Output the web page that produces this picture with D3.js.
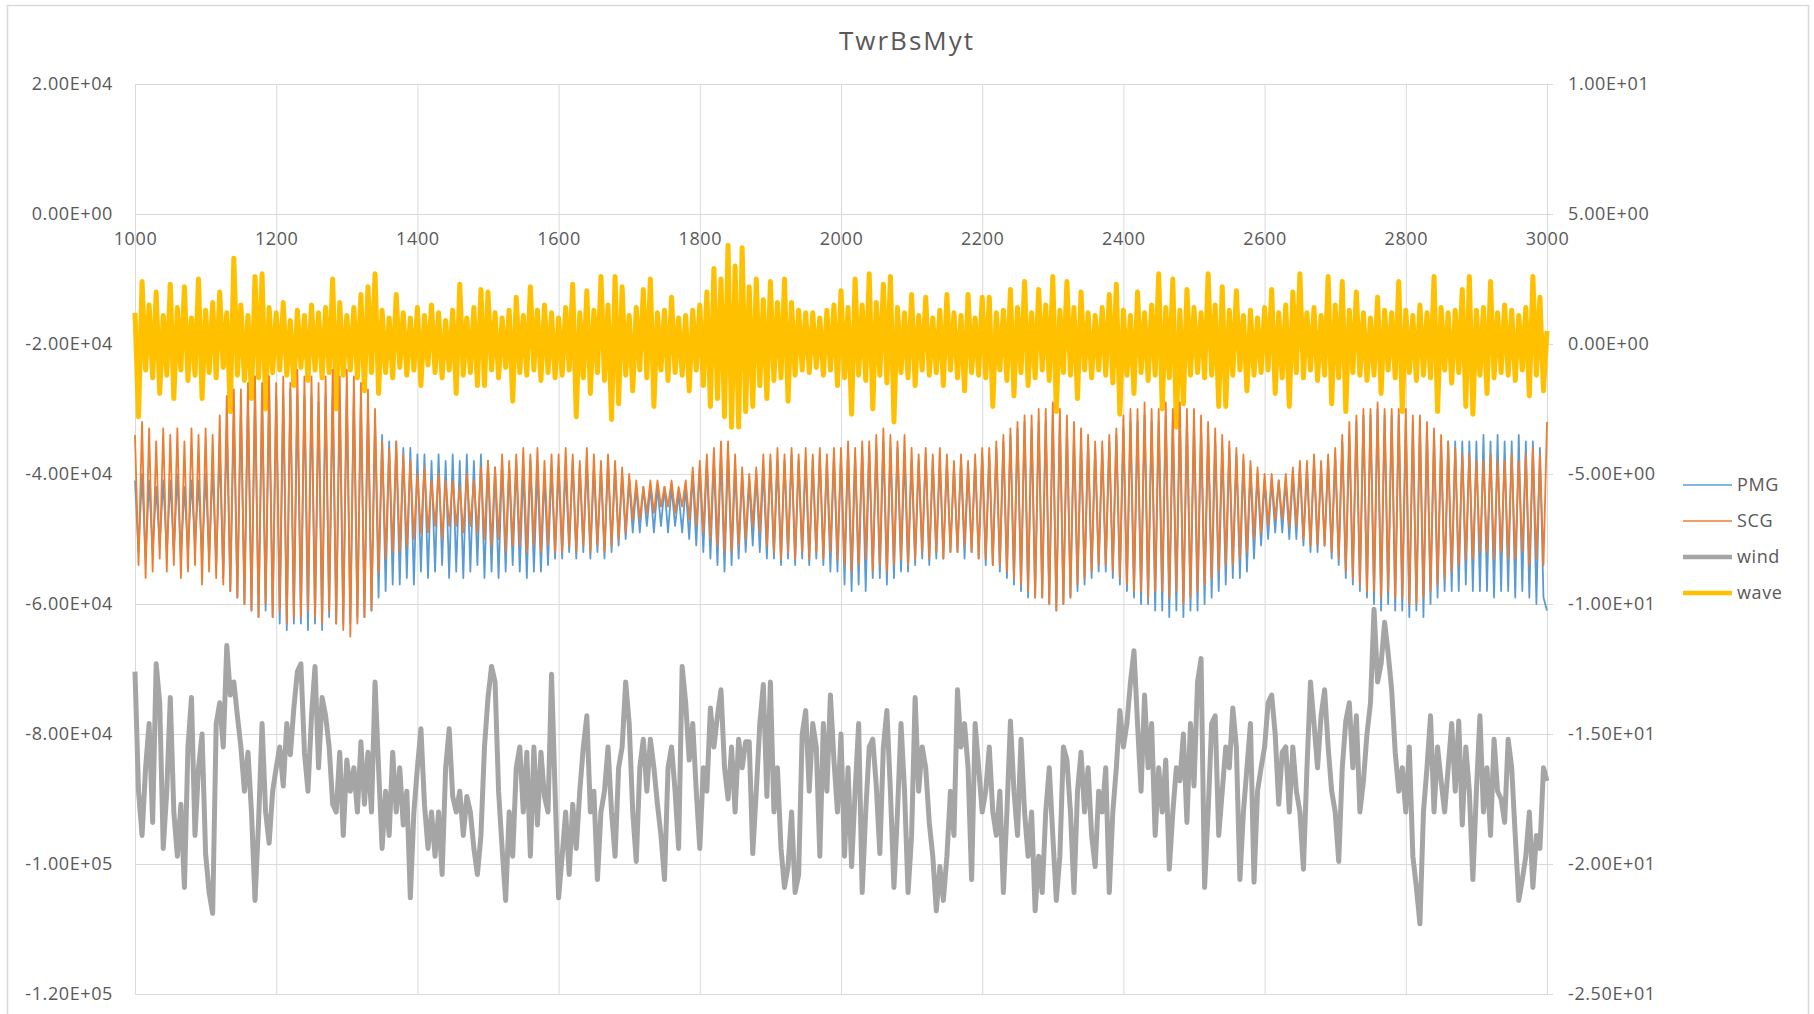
<!DOCTYPE html>
<html>
<head>
<meta charset="utf-8">
<script src="https://cdn.jsdelivr.net/npm/d3@7"></script>
<style>
body { margin: 0; background: #fff; }
svg { display: block; }
text { font-family: "Open Sans", sans-serif; fill: #595959; }
</style>
</head>
<body>
<svg id="chart"></svg>
<script>
const width = 1814;
const height = 1014;
const plotLeft = 135, plotRight = 1547, plotTop = 84, plotBottom = 994;

//// data ////////////////////////////////////
const title = 'TwrBsMyt';
const t0 = 1000, t1 = 3000;   // every series is sampled evenly over [t0, t1]
const xTicks = [1000, 1200, 1400, 1600, 1800, 2000, 2200, 2400, 2600, 2800, 3000];
const leftTicks = [20000, 0, -20000, -40000, -60000, -80000, -100000, -120000];
const rightTicks = [10, 5, 0, -5, -10, -15, -20, -25];
const seriesNames = ['PMG', 'SCG', 'wind', 'wave'];
const seriesColors = ['#5B9BD5', '#ED7D31', '#A5A5A5', '#FFC000'];
const kilo = 1000; // PMG and SCG are written in thousands (left axis)

const pmg = [
-41,-52,-40,-53,-41,-52,-42,-51,-41,-52,
-41,-52,-40,-53,-42,-52,-41,-51,-41,-53,
-40,-53,-39,-54,-36,-56,-33,-58,-31,-59,
-30,-60,-29,-61,-28,-62,-29,-61,-28,-62,
-28,-63,-28,-64,-27,-63,-28,-63,-28,-64,
-28,-63,-29,-64,-28,-62,-28,-63,-29,-63,
-28,-63,-28,-62,-29,-62,-30,-61,-32,-59,
-34,-58,-35,-57,-35,-57,-36,-56,-36,-57,
-37,-55,-37,-56,-38,-55,-37,-54,-38,-56,
-37,-55,-38,-56,-37,-55,-38,-54,-37,-56,
-38,-55,-39,-56,-38,-55,-39,-54,-38,-55,
-39,-56,-38,-55,-39,-55,-40,-54,-39,-53,
-39,-53,-39,-52,-38,-53,-39,-52,-38,-53,
-39,-52,-39,-53,-38,-52,-39,-51,-40,-50,
-41,-49,-42,-49,-42,-48,-42,-49,-42,-48,
-42,-49,-42,-48,-43,-49,-42,-50,-40,-51,
-39,-52,-38,-53,-38,-54,-37,-55,-37,-54,
-39,-53,-40,-52,-41,-51,-40,-52,-39,-53,
-38,-53,-38,-54,-38,-53,-37,-54,-38,-53,
-38,-54,-38,-53,-37,-54,-38,-55,-37,-55,
-37,-57,-36,-58,-37,-57,-36,-58,-36,-56,
-36,-56,-35,-57,-36,-56,-36,-55,-37,-55,
-38,-54,-38,-53,-37,-54,-38,-53,-38,-53,
-38,-52,-39,-52,-38,-53,-39,-52,-38,-53,
-37,-54,-37,-54,-36,-55,-35,-56,-34,-57,
-33,-58,-32,-59,-33,-59,-32,-59,-32,-60,
-31,-61,-32,-60,-33,-59,-34,-58,-35,-57,
-35,-56,-36,-55,-36,-55,-35,-56,-34,-57,
-33,-58,-32,-59,-32,-60,-31,-60,-32,-61,
-32,-61,-31,-62,-32,-61,-31,-62,-32,-61,
-32,-61,-33,-60,-34,-59,-35,-58,-36,-57,
-36,-56,-37,-56,-38,-55,-39,-53,-40,-51,
-41,-50,-41,-49,-41,-49,-41,-50,-40,-50,
-39,-51,-39,-52,-38,-52,-39,-51,-38,-53,
-37,-54,-35,-56,-34,-57,-32,-58,-31,-59,
-31,-60,-30,-61,-31,-60,-31,-61,-31,-61,
-32,-62,-32,-61,-32,-62,-33,-60,-34,-59,
-35,-58,-35,-58,-35,-58,-35,-57,-35,-58,
-35,-58,-34,-58,-35,-59,-34,-58,-35,-58,
-35,-59,-34,-58,-35,-59,-35,-60,-36,-59,
-61];

const scg = [
-34,-54,-32,-56,-33,-55,-35,-53,-33,-55,
-34,-54,-33,-56,-35,-55,-33,-54,-34,-57,
-33,-55,-34,-56,-31,-57,-28,-58,-27,-59,
-27,-60,-26,-61,-25,-62,-26,-60,-25,-62,
-26,-61,-25,-63,-26,-62,-24,-62,-25,-61,
-25,-62,-26,-63,-25,-61,-24,-63,-25,-64,
-24,-65,-25,-63,-26,-62,-27,-61,-30,-55,
-35,-53,-36,-52,-35,-52,-37,-51,-38,-50,
-40,-49,-39,-49,-41,-48,-40,-50,-41,-48,
-41,-48,-42,-49,-40,-48,-41,-49,-39,-50,
-38,-51,-39,-50,-37,-52,-38,-51,-37,-51,
-36,-52,-37,-51,-36,-52,-38,-51,-37,-52,
-37,-52,-36,-51,-37,-52,-38,-51,-36,-52,
-37,-51,-38,-52,-37,-51,-38,-50,-39,-49,
-40,-47,-41,-47,-42,-46,-41,-46,-41,-45,
-42,-45,-41,-46,-42,-45,-41,-47,-39,-48,
-38,-49,-37,-50,-36,-51,-35,-52,-35,-52,
-37,-51,-39,-50,-40,-48,-39,-49,-37,-51,
-37,-52,-36,-53,-37,-52,-36,-53,-37,-52,
-36,-53,-37,-52,-36,-53,-37,-52,-36,-53,
-36,-54,-35,-55,-36,-54,-35,-53,-35,-55,
-34,-54,-33,-55,-34,-54,-35,-53,-34,-54,
-36,-53,-37,-52,-36,-53,-37,-52,-36,-53,
-37,-52,-38,-52,-37,-51,-38,-52,-37,-53,
-36,-53,-36,-54,-35,-54,-34,-55,-33,-56,
-32,-57,-31,-58,-31,-59,-30,-59,-30,-60,
-29,-61,-30,-60,-31,-59,-32,-57,-33,-56,
-34,-55,-35,-54,-35,-54,-34,-55,-33,-56,
-31,-57,-30,-58,-30,-58,-29,-59,-30,-58,
-30,-58,-29,-59,-30,-58,-29,-60,-30,-59,
-30,-58,-31,-57,-32,-56,-33,-55,-34,-54,
-35,-54,-36,-53,-37,-52,-38,-50,-39,-49,
-40,-48,-40,-47,-41,-47,-40,-48,-39,-48,
-38,-50,-38,-51,-37,-51,-38,-51,-37,-52,
-36,-53,-34,-55,-32,-56,-31,-57,-30,-58,
-30,-58,-29,-59,-30,-58,-30,-59,-30,-59,
-30,-60,-31,-60,-31,-59,-32,-58,-33,-57,
-34,-56,-35,-55,-36,-54,-37,-53,-37,-53,
-38,-52,-38,-52,-37,-53,-38,-52,-38,-53,
-37,-53,-38,-52,-37,-54,-36,-53,-37,-54,
-32];

const wind = [
-12.6,-17.2,-18.9,-16.3,-14.6,-18.4,-12.3,-13.8,-19.4,-17.2,
-13.6,-18.0,-19.7,-17.7,-20.9,-15.5,-13.6,-18.9,-16.3,-15.0,
-19.6,-21.1,-21.9,-14.6,-13.8,-15.5,-11.6,-13.5,-13.0,-14.3,
-15.5,-17.2,-15.7,-18.0,-21.4,-18.4,-14.6,-18.0,-19.2,-17.2,
-16.3,-15.5,-17.0,-14.6,-15.8,-14.0,-12.6,-12.3,-15.7,-17.2,
-14.3,-12.4,-16.3,-13.6,-14.3,-15.5,-17.7,-18.0,-15.7,-18.9,
-16.0,-17.2,-16.3,-18.0,-15.3,-17.7,-15.7,-18.0,-13.0,-16.3,
-19.4,-17.2,-18.9,-15.7,-18.0,-16.3,-18.5,-17.2,-21.3,-18.0,
-16.3,-14.8,-17.7,-19.4,-18.0,-19.7,-18.0,-20.4,-16.3,-14.8,
-17.4,-18.0,-17.2,-18.9,-17.4,-18.0,-19.4,-20.4,-18.9,-15.5,
-13.6,
-12.4,-13.0,-17.2,-19.4,-21.4,-18.0,-19.7,-16.3,-15.5,-18.0,
-15.7,-19.7,-15.5,-18.5,-15.7,-17.4,-18.0,-12.7,-17.2,-21.3,
-19.7,-18.0,-20.4,-17.7,-19.4,-17.2,-15.5,-14.3,-18.0,-17.2,
-20.6,-18.0,-17.2,-15.5,-18.0,-19.7,-16.3,-15.5,-13.0,-14.6,
-18.0,-19.9,-16.3,-15.2,-17.2,-15.2,-16.3,-17.7,-18.9,-20.6,
-16.3,-15.5,-17.2,-19.4,-12.4,-13.8,-16.0,-14.6,-17.2,-19.4,
-16.3,-17.2,-14.0,-15.5,-14.3,-13.3,-16.3,-17.5,-15.5,-18.0,
-15.2,-16.3,-15.3,-15.3,-19.6,-17.2,-14.6,-13.1,-17.4,-13.0,
-18.0,-16.3,-19.4,-20.9,-20.1,-18.0,-21.1,-20.4,-15.0,-14.1,
-17.2,-14.6,-15.5,-19.7,-14.6,-17.2,-13.5,-16.0,-18.0,-15.0,
-19.7,-16.3,-20.1,-17.2,-14.6,-21.1,-18.0,-15.5,-15.2,-17.0,
-19.6,-15.5,-14.1,-17.2,-20.9,-18.0,-14.6,-17.2,-21.1,-18.9,
-13.6,-17.2,-15.5,-16.3,-18.4,-19.7,-21.8,-20.1,-21.4,-19.7,
-17.2,-18.9,-13.3,-15.5,-14.6,-16.3,-20.6,-14.6,-16.3,-18.0,
-17.2,-15.5,-18.0,-18.9,-17.2,-21.1,-18.0,-14.5,-17.2,-18.9,
-15.2,-18.0,-19.7,-18.0,-21.8,-19.7,-21.1,-18.0,-16.3,-18.9,
-21.4,-19.7,-15.5,-16.0,-18.0,-21.1,-17.2,-15.7,-18.0,-16.3,
-18.9,-20.1,-17.2,-18.0,-16.3,-21.1,-18.0,-16.3,-14.1,-15.5,
-14.6,-13.0,-11.8,-14.6,-17.2,-13.5,-16.3,-14.6,-18.9,-16.3,
-18.0,-16.0,-20.2,-18.0,-16.3,
-16.8,-15.0,-18.4,-14.6,-17.0,-13.0,-12.1,-20.9,-18.0,-14.6,
-14.3,-18.9,-17.2,-15.5,-16.3,-14.0,-15.5,-20.6,-18.0,-16.3,
-14.6,-20.7,-17.2,-16.3,-15.5,-13.8,-13.5,-15.0,-17.7,-15.7,
-15.5,-18.0,-15.5,-17.2,-18.0,-20.2,-16.3,-13.0,-14.6,-16.3,
-14.3,-13.3,-15.5,-17.2,-18.0,-19.9,-16.3,-14.5,-13.8,-16.3,
-14.3,-18.0,-16.8,-15.0,-13.8,-10.2,-13.0,-12.3,-10.7,-11.9,
-13.3,-15.7,-17.2,-16.3,-18.0,-15.5,-19.7,-20.9,-22.3,-18.0,
-16.3,-14.3,-18.0,-15.5,-16.8,-18.0,-16.3,-14.6,-17.2,-14.5,
-18.5,-15.5,-17.2,-20.6,-17.2,-14.3,-18.0,-16.3,-18.9,-15.2,
-17.2,-17.5,-18.4,-15.2,-16.3,-18.9,-21.4,-20.6,-19.7,-18.0,
-20.9,-18.9,-19.4,-16.3,-16.8];

const wave = [
1.2,-2.8,2.4,-1.0,1.5,-1.3,2.0,-1.9,1.1,-1.2,
2.3,-2.1,1.4,-1.0,2.2,-1.4,1.0,-1.2,2.5,-2.1,
1.3,-1.1,1.6,-1.3,2.0,-0.9,1.2,-2.6,3.3,-1.2,
1.5,-1.4,1.1,-2.1,2.6,-1.3,2.7,-2.5,1.4,-1.1,
1.2,-1.0,1.6,-1.2,0.9,-1.6,1.3,-0.9,1.1,-1.4,
1.5,-1.0,1.2,-1.3,1.4,-1.1,2.5,-2.5,1.6,-1.2,
1.1,-1.0,1.4,-1.3,1.9,-1.8,2.2,-1.1,2.7,-1.9,
1.3,-1.1,1.0,-1.3,1.9,-0.9,1.2,-1.2,1.0,-1.0,
1.4,-1.6,1.1,-0.8,1.5,-1.1,1.2,-1.3,0.9,-1.0,
1.3,-1.9,2.3,-1.2,1.0,-1.1,1.4,-1.6,2.1,-1.6,
2.0,-1.0,1.2,-1.3,1.0,-0.9,1.3,-2.2,1.8,-1.1,
1.1,-1.2,2.2,-1.0,1.3,-1.4,1.5,-1.1,1.2,-1.3,
1.0,-1.2,1.4,-1.0,2.3,-2.8,1.2,-1.3,2.05,-1.9,
1.3,-1.1,2.6,-1.4,1.5,-2.9,2.6,-2.3,2.2,-1.2,
1.1,-1.8,1.4,-1.0,2.1,-1.3,2.5,-2.4,1.2,-1.0,
1.3,-1.4,1.8,-1.1,1.0,-1.2,1.1,-1.8,1.3,-1.0,
1.5,-1.6,2.0,-2.4,2.9,-2.1,2.5,-2.8,3.8,-3.2,
3.0,-3.2,3.7,-2.6,2.2,-2.4,2.5,-1.6,1.7,-2.1,
2.4,-1.4,1.6,-1.3,2.5,-2.2,1.6,-1.2,1.3,-1.0,
1.2,-1.1,1.2,-0.9,1.0,-1.2,1.3,-1.0,1.5,-1.6,
2.05,-1.3,1.4,-2.7,2.5,-1.2,1.5,-1.4,2.7,-2.5,
1.6,-1.2,2.3,-1.5,2.6,-3.0,1.4,-1.1,1.2,-1.3,
1.9,-1.6,1.1,-1.0,1.8,-1.2,1.0,-1.1,1.3,-1.6,
1.9,-1.0,1.2,-1.3,1.1,-1.8,1.9,-1.1,1.0,-1.2,
1.8,-1.3,1.8,-2.4,1.2,-1.0,1.3,-1.4,2.1,-2.0,
1.4,-1.1,2.4,-1.6,1.2,-1.3,2.1,-1.0,1.5,-1.4,
2.6,-2.6,1.3,-1.1,2.4,-1.2,1.4,-2.1,2.0,-1.0,
1.2,-1.3,1.1,-1.0,1.4,-1.2,1.9,-1.5,2.3,-2.7,
1.3,-1.2,1.1,-1.9,2.0,-1.1,1.2,-1.4,1.5,-1.2,
2.7,-2.5,1.4,-1.3,2.5,-3.2,1.3,-2.3,2.1,-1.2,
1.4,-1.1,1.2,-1.3,2.7,-1.2,1.5,-2.4,2.2,-2.4,
1.3,-1.2,2.05,-1.0,1.1,-1.8,1.3,-1.2,1.0,-1.1,
1.4,-1.0,2.1,-1.9,1.2,-1.3,1.5,-2.4,2.0,-1.1,
2.7,-1.3,1.2,-1.0,1.4,-1.4,1.1,-1.2,2.6,-2.3,
1.5,-1.3,2.4,-2.6,1.3,-1.1,2.0,-1.2,1.2,-1.4,
1.0,-1.2,1.8,-1.9,1.3,-1.0,1.2,-1.3,2.4,-2.6,
1.3,-1.1,1.1,-1.4,1.5,-1.2,1.2,-1.3,2.6,-2.6,
1.4,-1.0,1.2,-1.5,1.3,-1.1,2.1,-2.4,2.6,-2.7,
1.3,-1.2,1.4,-1.9,2.4,-1.3,1.2,-1.1,1.5,-1.2,
1.3,-1.4,1.1,-1.0,1.4,-2.0,2.6,-1.2,1.8,-1.8,
0.5];

//// scales ////////////////////////////////////
const svg = d3.select('#chart').attr('width', width).attr('height', height);

const x = d3.scaleLinear().domain([t0, t1]).range([plotLeft, plotRight]);
const yLeft = d3.scaleLinear().domain([-120000, 20000]).range([plotBottom, plotTop]);
const yRight = d3.scaleLinear().domain([-25, 10]).range([plotBottom, plotTop]);

const timeAt = (i, n) => t0 + i * (t1 - t0) / (n - 1);

// excel style 0.00E+00
function sci(v) {
  const parts = v.toExponential(2).split('e');
  const sign = parts[1][0] === '-' ? '-' : '+';
  const digits = parts[1].replace(/[+-]/, '').padStart(2, '0');
  return parts[0] + 'E' + sign + digits;
}

svg.append('rect')
  .attr('width', width).attr('height', height)
  .attr('fill', '#fff');

svg.append('rect')
  .attr('x', 7.5).attr('y', 5.5)
  .attr('width', 1801).attr('height', 1030)
  .attr('fill', 'none')
  .attr('stroke', '#D9D9D9')
  .attr('stroke-width', 1.5);

//// grid + axes ////////////////////////////////
const gridColor = '#D9D9D9';

const xGrid = svg.append('g')
  .attr('transform', `translate(0,${plotBottom})`)
  .call(d3.axisBottom(x).tickValues(xTicks).tickSize(-(plotBottom - plotTop)).tickFormat(''));
xGrid.select('.domain').remove();
xGrid.selectAll('line').attr('stroke', gridColor);

const leftAxis = svg.append('g')
  .attr('transform', `translate(${plotLeft},0)`)
  .call(d3.axisLeft(yLeft).tickValues(leftTicks).tickSize(-(plotRight - plotLeft)).tickPadding(22).tickFormat(sci));
leftAxis.select('.domain').remove();
leftAxis.selectAll('line').attr('stroke', gridColor);

const rightAxis = svg.append('g')
  .attr('transform', `translate(${plotRight},0)`)
  .call(d3.axisRight(yRight).tickValues(rightTicks).tickSize(6).tickPadding(15).tickFormat(sci));
rightAxis.select('.domain').remove();
rightAxis.selectAll('line').attr('stroke', gridColor);

// x labels sit under the zero line
const xAxis = svg.append('g')
  .attr('transform', `translate(0,${yLeft(0)})`)
  .call(d3.axisBottom(x).tickValues(xTicks).tickSize(0).tickPadding(18).tickFormat(d => d));
xAxis.select('.domain').remove();

[leftAxis, rightAxis, xAxis].forEach(g => {
  g.attr('font-family', null).attr('font-size', null);
  g.selectAll('text')
    .attr('fill', '#595959')
    .attr('font-size', '18px')
    .attr('letter-spacing', '0.6px');
});

//// series ////////////////////////////////////
const leftLine = d3.line()
  .x((d, i, arr) => x(timeAt(i, arr.length)))
  .y(d => yLeft(d * kilo));
const rightLine = d3.line()
  .x((d, i, arr) => x(timeAt(i, arr.length)))
  .y(d => yRight(d));

const plot = svg.append('g');

plot.append('path').datum(wind)
  .attr('d', rightLine)
  .attr('fill', 'none').attr('stroke', seriesColors[2])
  .attr('stroke-width', 5).attr('stroke-linejoin', 'round');

plot.append('path').datum(wave)
  .attr('d', rightLine)
  .attr('fill', 'none').attr('stroke', seriesColors[3])
  .attr('stroke-width', 5).attr('stroke-linejoin', 'round');

plot.append('path').datum(pmg)
  .attr('d', leftLine)
  .attr('fill', 'none').attr('stroke', seriesColors[0])
  .attr('stroke-width', 1.8).attr('stroke-linejoin', 'round');

plot.append('path').datum(scg)
  .attr('d', leftLine)
  .attr('fill', 'none').attr('stroke', seriesColors[1])
  .attr('stroke-width', 1.8).attr('stroke-linejoin', 'round');

//// title + legend ////////////////////////////
svg.append('text')
  .text(title)
  .attr('x', 907).attr('y', 50)
  .attr('text-anchor', 'middle')
  .attr('font-size', '26px')
  .attr('letter-spacing', '2px');

const legendWidths = [1.5, 1.5, 4.5, 4.5];
const legend = svg.selectAll('.legend-item')
  .data(seriesNames)
  .enter()
  .append('g')
  .attr('class', 'legend-item')
  .attr('transform', (d, i) => `translate(1683,${485 + i * 36})`);

legend.append('line')
  .attr('x1', 0).attr('x2', 49)
  .attr('stroke', (d, i) => seriesColors[i])
  .attr('stroke-width', (d, i) => legendWidths[i]);

legend.append('text')
  .text(d => d)
  .attr('x', 54)
  .attr('dy', '0.35em')
  .attr('font-size', '18px')
  .attr('letter-spacing', '0.6px');
</script>
</body>
</html>
